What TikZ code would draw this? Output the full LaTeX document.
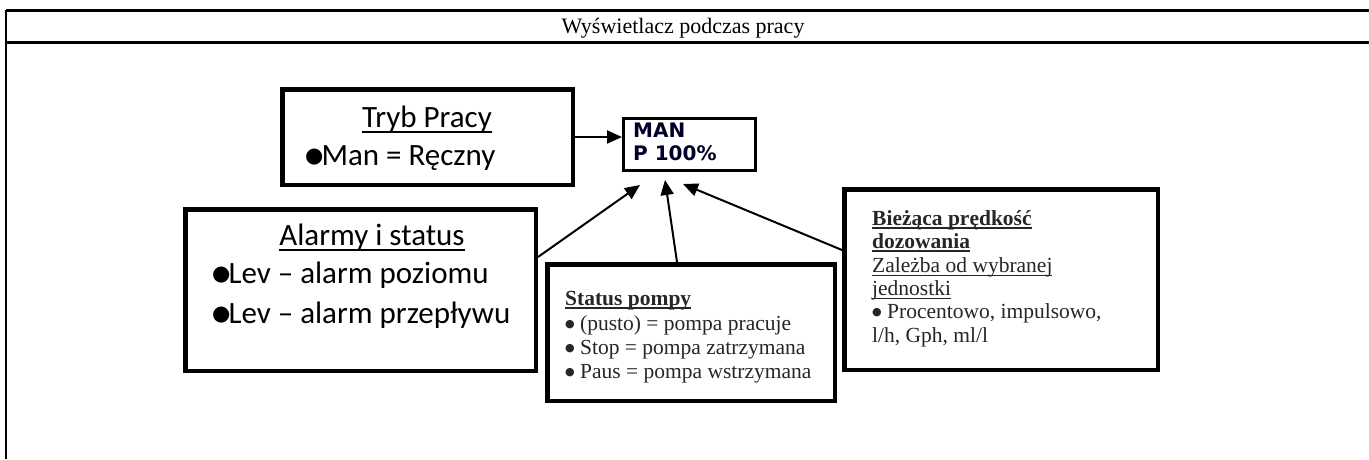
\documentclass[tikz,border=0pt]{standalone}
\usepackage{fontspec}
\setmainfont{Liberation Serif}
\newfontfamily\calibri{Carlito}
\newfontfamily\dejavu{DejaVu Sans}
\usepackage{tikz}
\usetikzlibrary{arrows.meta}

% underline close to the baseline, as in the original
\newcommand{\undl}[2][0.06em]{\setbox0\hbox{#2}\rlap{\rule[-0.2em]{\wd0}{#1}}\box0}
\newcommand{\blt}{\raisebox{3pt}{\dejavu\fontsize{21}{21}\selectfont ●}\kern-2pt}
\newcommand{\sblt}{\raisebox{3pt}{\dejavu\fontsize{11}{11}\selectfont ●}}

\begin{document}
\begin{tikzpicture}[x=1pt,y=-1pt,
    frame/.style={line width=2.5pt},
    box/.style={draw, line width=4.5pt, inner sep=0pt},
    lcd/.style={inner sep=0pt, anchor=base west, text=black!85!blue, font=\dejavu\bfseries\fontsize{20}{20}\selectfont},
    big/.style={inner sep=0pt, font=\calibri\fontsize{31}{31}\selectfont},
    small/.style={inner sep=0pt, anchor=base west, text=black!85, font=\fontsize{21.5}{21.5}\selectfont},
    arr/.style={line width=2pt, -{Triangle[length=15pt,width=13pt]}}]
    \useasboundingbox (0,0) rectangle (1369,459);

    % table frame and header
    \draw[frame] (6,10.5) -- (1369,10.5);
    \draw[frame] (6,42.5) -- (1369,42.5);
    \draw[frame] (6,9.5) -- (6,459);
    \node[inner sep=0pt, anchor=base, font=\fontsize{22}{22}\selectfont] (head) at (683,33) {Wyświetlacz podczas pracy};

    % display
    \node[box, line width=3pt, minimum width=132, minimum height=52] (disp) at (689.5,144.5) {};
    \node[lcd] (man) at (633,137) {MAN};
    \node[lcd] (perc) at (633,160) {P 100\%};

    % Tryb Pracy
    \node[box, minimum width=290.5, minimum height=95.5] (tryb) at (427.5,137) {};
    \node[big, anchor=base] (trybT) at (427,127) {\undl{Tryb Pracy}};
    \node[big, anchor=base west] (trybL) at (305,165) {\blt Man = Ręczny};

    % Alarmy i status
    \node[box, minimum width=350.5, minimum height=161.5] (alarm) at (360.5,290) {};
    \node[big, anchor=base] (alarmT) at (372,245) {\undl{Alarmy i status}};
    \node[big, anchor=base west] (alarmL1) at (212,283) {\blt Lev – alarm poziomu};
    \node[big, anchor=base west] (alarmL2) at (212,323) {\blt Lev – alarm przepływu};

    % Status pompy
    \node[box, minimum width=287.5, minimum height=136.5] (status) at (691,332.5) {};
    \node[small] (statT) at (565,305) {\undl[0.09em]{\bfseries Status pompy}};
    \node[small] (statL1) at (565,330) {\sblt{} (pusto) = pompa pracuje};
    \node[small] (statL2) at (565,354) {\sblt{} Stop = pompa zatrzymana};
    \node[small] (statL3) at (565,378) {\sblt{} Paus = pompa wstrzymana};

    % predkosc dozowania
    \node[box, minimum width=313.5, minimum height=180.5] (rate) at (1001,279.5) {};
    \node[small] (rateT1) at (872,225) {\undl[0.09em]{\bfseries Bieżąca prędkość}};
    \node[small] (rateT2) at (872,248) {\undl[0.09em]{\bfseries dozowania}};
    \node[small] (rateS1) at (872,272) {\undl{Zależba od wybranej}};
    \node[small] (rateS2) at (872,295) {\undl{jednostki}};
    \node[small] (rateL1) at (872,318) {\sblt{} Procentowo, impulsowo,};
    \node[small] (rateL2) at (872,342) {l/h, Gph, ml/l};

    % arrow tips under the display
    \coordinate (tipA) at ([xshift=18pt,yshift=-13pt]disp.south west);
    \coordinate (tipS) at ([xshift=43pt,yshift=-8pt]disp.south west);
    \coordinate (tipR) at ([xshift=61pt,yshift=-12pt]disp.south west);

    \draw[arr] (tryb.east) -- (tryb.east -| disp.west);
    \draw[arr] ([yshift=-50pt]alarm.north east) -- (tipA);
    \draw[arr] ([xshift=-14pt]status.north) -- (tipS);
    \draw[arr] ([yshift=-63pt]rate.north west) -- (tipR);
\end{tikzpicture}
\end{document}
